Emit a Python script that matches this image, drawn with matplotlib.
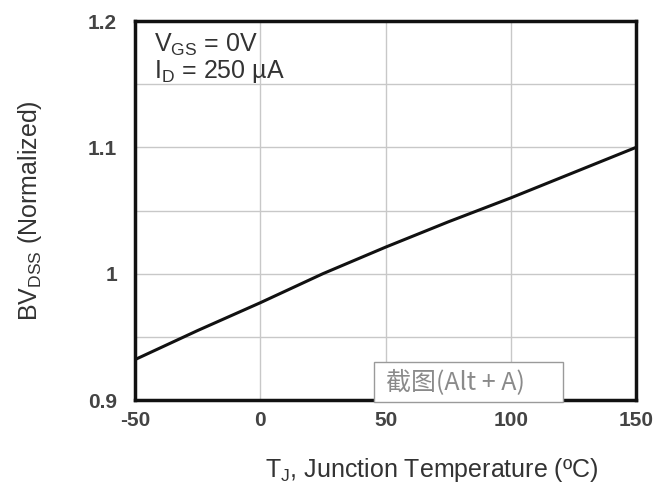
import matplotlib
matplotlib.use('Agg')
import matplotlib.pyplot as plt
from matplotlib.patches import Rectangle

# values
temp = [-50, -25, 0, 25, 50, 75, 100, 125, 150]
bv_norm = [0.932, 0.955, 0.977, 1.000, 1.021, 1.041, 1.060, 1.080, 1.100]

x_ticks = [-50, 0, 50, 100, 150]
x_tick_labels = ['-50', '0', '50', '100', '150']
y_ticks = [0.9, 1.0, 1.1, 1.2]
y_tick_labels = ['0.9', '1', '1.1', '1.2']
x_grid = [-50, 0, 50, 100, 150]
y_grid = [0.9, 0.95, 1.0, 1.05, 1.1, 1.15, 1.2]

plt.rcParams['font.family'] = ['Liberation Sans', 'DejaVu Sans']
txt = '#333333'

fig = plt.figure(figsize=(6.71, 4.91), dpi=100)
ax = fig.add_axes([0.2012, 0.1853, 0.7468, 0.7719])

for g in x_grid:
    ax.axvline(g, color='#c8c8c8', lw=1.0, zorder=1)
for g in y_grid:
    ax.axhline(g, color='#c8c8c8', lw=1.0, zorder=1)

ax.plot(temp, bv_norm, color='#111111', lw=2.2, zorder=3)

ax.set_xlim(-50, 150)
ax.set_ylim(0.9, 1.2)
ax.set_xticks(x_ticks)
ax.set_xticklabels(x_tick_labels)
ax.set_yticks(y_ticks)
ax.set_yticklabels(y_tick_labels)
ax.tick_params(length=0, labelsize=15, colors='#444444')
ax.tick_params(axis='x', pad=8)
ax.tick_params(axis='y', pad=13)
for lab in ax.get_xticklabels() + ax.get_yticklabels():
    lab.set_fontweight('bold')
for s in ax.spines.values():
    s.set_linewidth(2.5)
    s.set_color('#111111')
    s.set_zorder(4)

ax.set_xlabel('T$_\\mathregular{J}$, Junction Temperature (ºC)', fontsize=18,
              color=txt)
ax.xaxis.set_label_coords(0.593, -0.147)
ax.set_ylabel('BV$_\\mathregular{DSS}$ (Normalized)', fontsize=18,
              color=txt)
ax.yaxis.set_label_coords(-0.181, 0.5)

ax.text(0.038, 0.918, 'V$_\\mathregular{GS}$ = 0V', transform=ax.transAxes,
        fontsize=18, color=txt, va='baseline')
ax.text(0.038, 0.850, 'I$_\\mathregular{D}$ = 250 µA', transform=ax.transAxes,
        fontsize=18, color=txt, va='baseline')

# screenshot tooltip overlay
W, H = 671, 491
fig.patches.append(Rectangle((374 / W, 1 - 402 / H), 189 / W, 40 / H,
                             transform=fig.transFigure, facecolor='white',
                             edgecolor='#9a9a9a', lw=1.0, zorder=10))
fig.text(386 / W, 1 - 382 / H, '截图(Alt + A)', fontsize=18, color='#8a8a8a',
         va='center', ha='left', zorder=11,
         family=['Noto Sans CJK SC', 'DejaVu Sans'])

fig.savefig('out.png', dpi=100)
